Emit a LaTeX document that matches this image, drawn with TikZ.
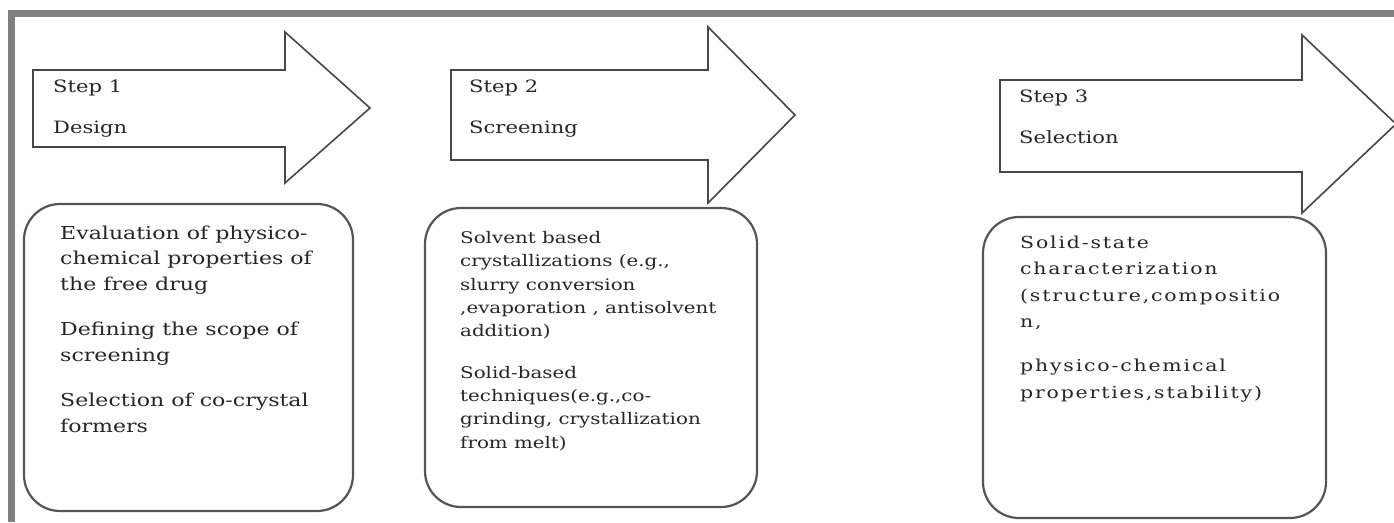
\documentclass[tikz,border=0pt]{standalone}
\usepackage{fontspec}
\newfontfamily\diagfont[FakeStretch=1.24]{DejaVu Serif}
\newfontfamily\diagfontwide[FakeStretch=1.24,LetterSpace=11]{DejaVu Serif}
\definecolor{framegray}{HTML}{808080}
\definecolor{linegray}{HTML}{474747}
\definecolor{boxgray}{HTML}{555555}
\definecolor{textgray}{HTML}{262626}

\begin{document}
\begin{tikzpicture}[x=1pt,y=-1pt,
		arrowline/.style={draw=linegray,line width=1.6pt,line join=miter},
		stepbox/.style={rectangle,draw=boxgray,line width=2.2pt,rounded corners=36pt,inner sep=0pt},
		steptext/.style={anchor=base west,inner sep=0pt,align=left,text=textgray,font=\diagfont\fontsize{17}{41}\selectfont}]
		\useasboundingbox (0,0) rectangle (1394,522);
		\fill[white] (0,0) rectangle (1394,522);
		\fill[framegray] (8,10) rectangle (1394,17);
		\fill[framegray] (8,10) rectangle (15,522);

		\draw[arrowline] (33,70) -- (285,70) -- (285,32) -- (370,108) -- (285,183) -- (285,147) -- (33,147) -- cycle;
		\draw[arrowline] (451,70) -- (708,70) -- (708,27) -- (795,115) -- (708,203) -- (708,160) -- (451,160) -- cycle;
		\draw[arrowline] (1000,80) -- (1302,80) -- (1302,35) -- (1396,124) -- (1302,213) -- (1302,172) -- (1000,172) -- cycle;

		% base anchor sits on the last line
		\draw (53,133) node (step1) [steptext] {Step 1\\Design};
		\draw (469,133) node (step2) [steptext] {Step 2\\Screening};
		\draw (1019,143) node (step3) [steptext] {Step 3\\Selection};

		\draw (188.5,357.5) node (box1) [stepbox,minimum width=329pt,minimum height=307pt] {};
		\draw (591,357.5) node (box2) [stepbox,minimum width=332pt,minimum height=299pt] {};
		\draw (1154.5,367.5) node (box3) [stepbox,minimum width=343pt,minimum height=301pt] {};

		\draw (60,432) node (design) [steptext,font=\diagfont\fontsize{17.8}{25.5}\selectfont]
			{Evaluation of physico-\\chemical properties of\\the free drug\\[20pt]Defining the scope of\\screening\\[20pt]Selection of co-crystal\\formers};
		\draw (460,448) node (screen) [steptext,font=\diagfont\fontsize{16}{23.3}\selectfont]
			{Solvent based\\crystallizations (e.g.,\\slurry conversion\\,evaporation , antisolvent\\addition)\\[18pt]Solid-based\\techniques(e.g.,co-\\grinding, crystallization\\from melt)};
		\draw (1020,398) node (select) [steptext,font=\diagfontwide\fontsize{16.5}{26.3}\selectfont]
			{Solid-state\\characterization\\(structure,compositio\\n,\\[18pt]physico-chemical\\properties,stability)};
\end{tikzpicture}
\end{document}
